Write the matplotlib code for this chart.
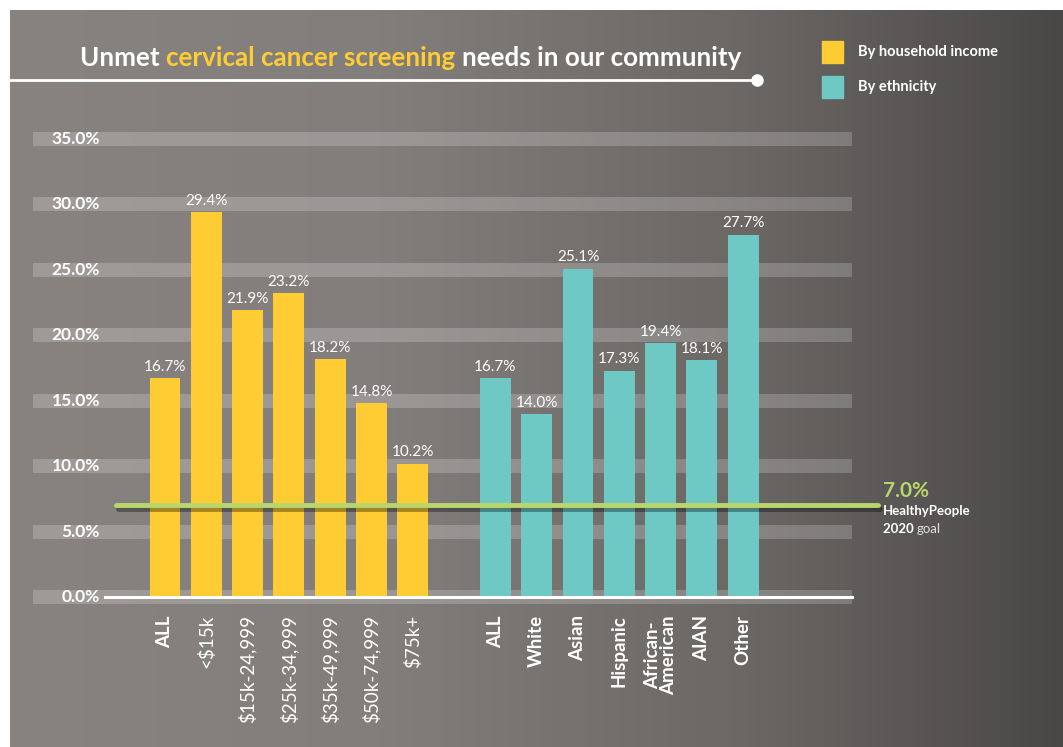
import numpy as np
import matplotlib
matplotlib.use("Agg")
import matplotlib.pyplot as plt
from matplotlib import patheffects as pe
from matplotlib.colors import LinearSegmentedColormap

plt.rcParams['font.family'] = ['Lato', 'DejaVu Sans']

income_labels = ["ALL", "<$15k", "$15k-24,999", "$25k-34,999", "$35k-49,999", "$50k-74,999", "$75k+"]
income_vals = [16.7, 29.4, 21.9, 23.2, 18.2, 14.8, 10.2]
eth_labels = ["ALL", "White", "Asian", "Hispanic", "African-\nAmerican", "AIAN", "Other"]
eth_vals = [16.7, 14.0, 25.1, 17.3, 19.4, 18.1, 27.7]
yticks = [0, 5, 10, 15, 20, 25, 30, 35]
goal = 7.0

YELLOW = "#FFCC33"
TEAL = "#6EC8C4"
GREEN = "#B9D66E"

W, H = 1063, 747
fig = plt.figure(figsize=(W / 100, H / 100), dpi=100)
fig.patch.set_facecolor("white")

# gradient background panel
bg = fig.add_axes([10 / W, 0, 1 - 10 / W, 1 - 10 / H])
cmap = LinearSegmentedColormap.from_list("bg", [(0, "#88837F"), (0.35, "#827E7C"), (0.7, "#6A6765"), (1, "#4A4847")])
bg.imshow(np.linspace(0, 1, 256).reshape(1, -1), cmap=cmap, aspect="auto", extent=[0, 1, 0, 1])
bg.set_xlim(0, 1)
bg.set_ylim(0, 1)
bg.axis("off")

# main axes
x0, x1 = 33, 852
ax = fig.add_axes([x0 / W, (H - 597) / H, (x1 - x0) / W, (597 - 139) / H])
ax.patch.set_alpha(0)
slot = 41.3
xl = (x0 - 165) / slot
xr = (x1 - 165) / slot
ax.set_xlim(xl, xr)
ax.set_ylim(0, 35)
for s in ax.spines.values():
    s.set_visible(False)

for v in yticks:
    ax.axhspan(v - 0.53, v + 0.53, color="white", alpha=0.2, lw=0, clip_on=False, zorder=1)
    ax.text((100 - 165) / slot, v, f"{v:.1f}%", color="white", fontsize=12.5, fontweight="bold",
            ha="right", va="center", zorder=3)
ax.set_yticks([])

xi = np.arange(len(income_vals))
xe = np.arange(len(eth_vals)) + 8
ax.bar(xi, income_vals, width=0.75, color=YELLOW, zorder=2)
ax.bar(xe, eth_vals, width=0.75, color=TEAL, zorder=2)
for x, v in list(zip(xi, income_vals)) + list(zip(xe, eth_vals)):
    ax.annotate(f"{v}%", (x, v), xytext=(0, 3), textcoords="offset points", ha="center", va="bottom",
                color="white", fontsize=11, zorder=3)

ax.axhline(0, xmin=(105 - x0) / (x1 - x0), xmax=1, color="white", lw=2.2, zorder=3, clip_on=False)

ax.axhline(goal, xmin=(116 - x0) / (x1 - x0), xmax=(878 - x0) / (x1 - x0), color=GREEN, lw=3.5,
           zorder=4, clip_on=False, solid_capstyle="round",
           path_effects=[pe.SimpleLineShadow(offset=(1.5, -2.5), shadow_color="black", alpha=0.35), pe.Normal()])

ax.set_xticks(list(xi) + list(xe))
ax.set_xticklabels(income_labels + eth_labels, rotation=90, color="white", fontsize=13.5, linespacing=0.95)
for lab in ax.get_xticklabels()[7:]:
    lab.set_fontweight("bold")
ax.get_xticklabels()[0].set_fontweight("bold")
ax.tick_params(axis="x", length=0, pad=13)

# title and underline
t1 = fig.text(80 / W, 1 - 58 / H, "Unmet ", color="white", fontsize=18.7, fontweight="bold", va="center")
fig.canvas.draw()
r = fig.canvas.get_renderer()
def after(t, s, c):
    bb = t.get_window_extent(r)
    return fig.text(bb.x1 / W, t.get_position()[1], s, color=c, fontsize=18.7, fontweight="bold", va="center")
t2 = after(t1, "cervical cancer screening ", YELLOW)
t3 = after(t2, "needs in our community", "white")

fig.add_artist(plt.Line2D([10 / W, 757 / W], [1 - 80 / H, 1 - 80 / H], color="white", lw=2))
fig.add_artist(plt.Line2D([757 / W], [1 - 80 / H], marker="o", markersize=8, color="white"))

# legend
for yy, col, lab in [(52, YELLOW, "By household income"), (87, TEAL, "By ethnicity")]:
    fig.add_artist(plt.Rectangle((822 / W, 1 - (yy + 11) / H), 21 / W, 22 / H, color=col))
    fig.text(858 / W, 1 - yy / H, lab, color="white", fontsize=10.5, fontweight="bold", va="center")

# goal label
fig.text(883 / W, 1 - 491 / H, f"{goal:.1f}%", color=GREEN, fontsize=15, fontweight="bold", va="center")
fig.text(883 / W, 1 - 511 / H, "HealthyPeople", color="white", fontsize=9.5, fontweight="bold", va="center")
g1 = fig.text(883 / W, 1 - 529 / H, "2020 ", color="white", fontsize=9.5, fontweight="bold", va="center")
fig.canvas.draw()
bb = g1.get_window_extent(fig.canvas.get_renderer())
fig.text(bb.x1 / W, 1 - 529 / H, "goal", color="#DDDDDD", fontsize=9.5, va="center")

fig.savefig("out.png", dpi=100)
